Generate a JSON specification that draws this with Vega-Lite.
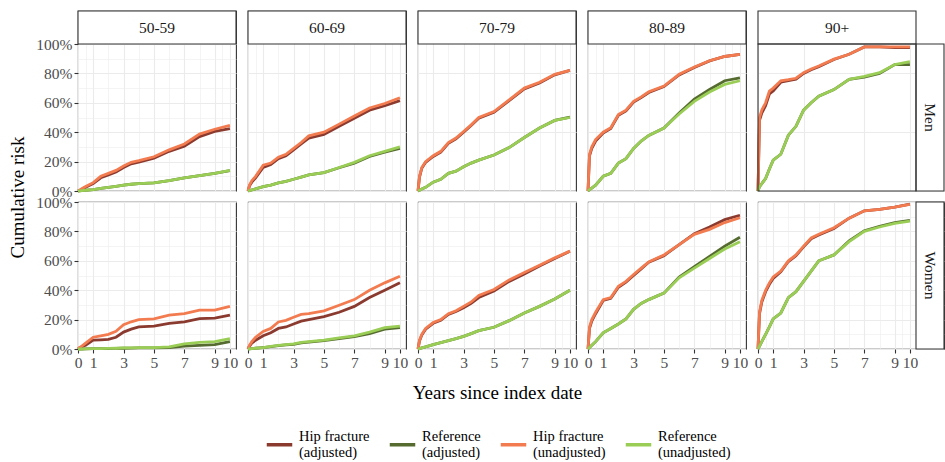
{
  "$schema": "https://vega.github.io/schema/vega-lite/v6.json",
  "padding": {"left": 8, "top": 9, "right": 0, "bottom": 0},
  "background": "white",
  "data": {"values": [
    {"s":"Men","a":"50-59","t":0,"hfa":0,"refa":0,"hfu":0,"refu":0},
    {"s":"Men","a":"50-59","t":0.1,"hfa":0.4,"refa":0.1,"hfu":0.5,"refu":0.1},
    {"s":"Men","a":"50-59","t":0.25,"hfa":1.2,"refa":0.3,"hfu":1.5,"refu":0.3},
    {"s":"Men","a":"50-59","t":0.5,"hfa":2.5,"refa":0.5,"hfu":3,"refu":0.5},
    {"s":"Men","a":"50-59","t":1,"hfa":5,"refa":1,"hfu":5.7,"refu":1},
    {"s":"Men","a":"50-59","t":1.5,"hfa":9,"refa":1.8,"hfu":10,"refu":1.8},
    {"s":"Men","a":"50-59","t":2,"hfa":11,"refa":2.5,"hfu":12,"refu":2.5},
    {"s":"Men","a":"50-59","t":2.5,"hfa":13,"refa":3.2,"hfu":14,"refu":3.2},
    {"s":"Men","a":"50-59","t":3,"hfa":16,"refa":4,"hfu":17,"refu":4},
    {"s":"Men","a":"50-59","t":3.5,"hfa":18.5,"refa":4.6,"hfu":19.5,"refu":4.6},
    {"s":"Men","a":"50-59","t":4,"hfa":19.6,"refa":5,"hfu":20.6,"refu":5},
    {"s":"Men","a":"50-59","t":5,"hfa":22.3,"refa":5.5,"hfu":23.3,"refu":5.5},
    {"s":"Men","a":"50-59","t":6,"hfa":27,"refa":7,"hfu":28,"refu":7},
    {"s":"Men","a":"50-59","t":7,"hfa":30.5,"refa":9,"hfu":32,"refu":9},
    {"s":"Men","a":"50-59","t":8,"hfa":37,"refa":10.5,"hfu":38.7,"refu":10.5},
    {"s":"Men","a":"50-59","t":9,"hfa":40.5,"refa":12,"hfu":42,"refu":12},
    {"s":"Men","a":"50-59","t":10,"hfa":42.5,"refa":13.8,"hfu":44.6,"refu":14},

    {"s":"Women","a":"50-59","t":0,"hfa":0,"refa":0,"hfu":0,"refu":0},
    {"s":"Women","a":"50-59","t":0.1,"hfa":0.8,"refa":0,"hfu":1,"refu":0},
    {"s":"Women","a":"50-59","t":0.25,"hfa":1.5,"refa":0,"hfu":2,"refu":0},
    {"s":"Women","a":"50-59","t":0.5,"hfa":2.5,"refa":0.1,"hfu":4,"refu":0.1},
    {"s":"Women","a":"50-59","t":1,"hfa":6,"refa":0.2,"hfu":8,"refu":0.2},
    {"s":"Women","a":"50-59","t":1.5,"hfa":6.2,"refa":0.2,"hfu":9,"refu":0.3},
    {"s":"Women","a":"50-59","t":2,"hfa":6.5,"refa":0.3,"hfu":10,"refu":0.4},
    {"s":"Women","a":"50-59","t":2.5,"hfa":8,"refa":0.4,"hfu":12,"refu":0.5},
    {"s":"Women","a":"50-59","t":3,"hfa":11.5,"refa":0.5,"hfu":16.5,"refu":0.7},
    {"s":"Women","a":"50-59","t":3.5,"hfa":13.5,"refa":0.6,"hfu":18.5,"refu":0.8},
    {"s":"Women","a":"50-59","t":4,"hfa":15,"refa":0.7,"hfu":20,"refu":0.9},
    {"s":"Women","a":"50-59","t":5,"hfa":15.5,"refa":0.8,"hfu":20.5,"refu":1},
    {"s":"Women","a":"50-59","t":6,"hfa":17.5,"refa":1,"hfu":23,"refu":1.5},
    {"s":"Women","a":"50-59","t":7,"hfa":18.5,"refa":2,"hfu":24,"refu":3.5},
    {"s":"Women","a":"50-59","t":8,"hfa":20.7,"refa":2.5,"hfu":26.5,"refu":4.5},
    {"s":"Women","a":"50-59","t":9,"hfa":21,"refa":3,"hfu":26.5,"refu":5},
    {"s":"Women","a":"50-59","t":10,"hfa":23,"refa":5,"hfu":29,"refu":7},

    {"s":"Men","a":"60-69","t":0,"hfa":0,"refa":0,"hfu":0,"refu":0},
    {"s":"Men","a":"60-69","t":0.1,"hfa":3.5,"refa":0.3,"hfu":4,"refu":0.3},
    {"s":"Men","a":"60-69","t":0.25,"hfa":6,"refa":0.7,"hfu":7,"refu":0.7},
    {"s":"Men","a":"60-69","t":0.5,"hfa":9,"refa":1.5,"hfu":10,"refu":1.5},
    {"s":"Men","a":"60-69","t":1,"hfa":16,"refa":3,"hfu":17.6,"refu":3},
    {"s":"Men","a":"60-69","t":1.5,"hfa":18,"refa":4,"hfu":19,"refu":4},
    {"s":"Men","a":"60-69","t":2,"hfa":22,"refa":5.5,"hfu":23,"refu":5.5},
    {"s":"Men","a":"60-69","t":2.5,"hfa":24,"refa":6.5,"hfu":25,"refu":6.5},
    {"s":"Men","a":"60-69","t":3,"hfa":28,"refa":8,"hfu":29,"refu":8},
    {"s":"Men","a":"60-69","t":3.5,"hfa":32,"refa":9.5,"hfu":33,"refu":9.5},
    {"s":"Men","a":"60-69","t":4,"hfa":36,"refa":11,"hfu":37.5,"refu":11},
    {"s":"Men","a":"60-69","t":5,"hfa":38.5,"refa":12.5,"hfu":40,"refu":12.5},
    {"s":"Men","a":"60-69","t":6,"hfa":44,"refa":15.8,"hfu":45.5,"refu":16},
    {"s":"Men","a":"60-69","t":7,"hfa":49.5,"refa":19,"hfu":51,"refu":19.5},
    {"s":"Men","a":"60-69","t":8,"hfa":55,"refa":23.5,"hfu":56.5,"refu":24},
    {"s":"Men","a":"60-69","t":9,"hfa":58,"refa":26.5,"hfu":59.5,"refu":27},
    {"s":"Men","a":"60-69","t":10,"hfa":61.5,"refa":29,"hfu":63.4,"refu":30},

    {"s":"Women","a":"60-69","t":0,"hfa":0,"refa":0,"hfu":0,"refu":0},
    {"s":"Women","a":"60-69","t":0.1,"hfa":2,"refa":0.1,"hfu":2.5,"refu":0.1},
    {"s":"Women","a":"60-69","t":0.25,"hfa":4,"refa":0.3,"hfu":5,"refu":0.3},
    {"s":"Women","a":"60-69","t":0.5,"hfa":6,"refa":0.5,"hfu":8,"refu":0.5},
    {"s":"Women","a":"60-69","t":1,"hfa":9,"refa":1,"hfu":12,"refu":1},
    {"s":"Women","a":"60-69","t":1.5,"hfa":11,"refa":1.6,"hfu":14,"refu":1.8},
    {"s":"Women","a":"60-69","t":2,"hfa":14,"refa":2.3,"hfu":18.4,"refu":2.5},
    {"s":"Women","a":"60-69","t":2.5,"hfa":15,"refa":2.8,"hfu":19.5,"refu":3},
    {"s":"Women","a":"60-69","t":3,"hfa":17,"refa":3.2,"hfu":21.6,"refu":3.5},
    {"s":"Women","a":"60-69","t":3.5,"hfa":19,"refa":4.2,"hfu":23.5,"refu":4.5},
    {"s":"Women","a":"60-69","t":4,"hfa":20,"refa":4.7,"hfu":24,"refu":5},
    {"s":"Women","a":"60-69","t":5,"hfa":22,"refa":5.7,"hfu":26,"refu":6},
    {"s":"Women","a":"60-69","t":6,"hfa":25,"refa":7,"hfu":29.8,"refu":7.5},
    {"s":"Women","a":"60-69","t":7,"hfa":29,"refa":8.5,"hfu":33.6,"refu":9},
    {"s":"Women","a":"60-69","t":8,"hfa":35,"refa":10.5,"hfu":40,"refu":11.5},
    {"s":"Women","a":"60-69","t":9,"hfa":40,"refa":13.5,"hfu":45,"refu":14.5},
    {"s":"Women","a":"60-69","t":10,"hfa":45,"refa":14.5,"hfu":49.5,"refu":15.5},

    {"s":"Men","a":"70-79","t":0,"hfa":0,"refa":0,"hfu":0,"refu":0},
    {"s":"Men","a":"70-79","t":0.1,"hfa":9.5,"refa":0.5,"hfu":10,"refu":0.5},
    {"s":"Men","a":"70-79","t":0.25,"hfa":15.5,"refa":1.3,"hfu":16,"refu":1.3},
    {"s":"Men","a":"70-79","t":0.5,"hfa":19.5,"refa":2.5,"hfu":20,"refu":2.5},
    {"s":"Men","a":"70-79","t":1,"hfa":23.5,"refa":6,"hfu":24,"refu":6},
    {"s":"Men","a":"70-79","t":1.5,"hfa":26.5,"refa":8,"hfu":27,"refu":8},
    {"s":"Men","a":"70-79","t":2,"hfa":32.5,"refa":12,"hfu":33,"refu":12},
    {"s":"Men","a":"70-79","t":2.5,"hfa":35.5,"refa":13.5,"hfu":36,"refu":13.5},
    {"s":"Men","a":"70-79","t":3,"hfa":40,"refa":16.5,"hfu":40.5,"refu":16.5},
    {"s":"Men","a":"70-79","t":3.5,"hfa":44.5,"refa":19,"hfu":45,"refu":19},
    {"s":"Men","a":"70-79","t":4,"hfa":49.5,"refa":21,"hfu":50,"refu":21},
    {"s":"Men","a":"70-79","t":5,"hfa":53.5,"refa":24.5,"hfu":54,"refu":24.5},
    {"s":"Men","a":"70-79","t":6,"hfa":61.5,"refa":29.5,"hfu":62,"refu":29.5},
    {"s":"Men","a":"70-79","t":7,"hfa":69.5,"refa":36.4,"hfu":70,"refu":36.4},
    {"s":"Men","a":"70-79","t":8,"hfa":73.5,"refa":42.8,"hfu":74,"refu":42.8},
    {"s":"Men","a":"70-79","t":9,"hfa":79,"refa":48,"hfu":79.4,"refu":48},
    {"s":"Men","a":"70-79","t":10,"hfa":82,"refa":50.2,"hfu":82,"refu":50},

    {"s":"Women","a":"70-79","t":0,"hfa":0,"refa":0,"hfu":0,"refu":0},
    {"s":"Women","a":"70-79","t":0.1,"hfa":5.5,"refa":0.3,"hfu":6,"refu":0.3},
    {"s":"Women","a":"70-79","t":0.25,"hfa":9.5,"refa":0.8,"hfu":10,"refu":0.8},
    {"s":"Women","a":"70-79","t":0.5,"hfa":13.5,"refa":1.5,"hfu":14,"refu":1.5},
    {"s":"Women","a":"70-79","t":1,"hfa":17.5,"refa":3,"hfu":18,"refu":3},
    {"s":"Women","a":"70-79","t":1.5,"hfa":19.5,"refa":4.3,"hfu":20,"refu":4.3},
    {"s":"Women","a":"70-79","t":2,"hfa":23.5,"refa":5.7,"hfu":24,"refu":5.7},
    {"s":"Women","a":"70-79","t":2.5,"hfa":25.5,"refa":7,"hfu":26,"refu":7},
    {"s":"Women","a":"70-79","t":3,"hfa":28,"refa":8.6,"hfu":29,"refu":8.6},
    {"s":"Women","a":"70-79","t":3.5,"hfa":31,"refa":10.5,"hfu":32,"refu":10.5},
    {"s":"Women","a":"70-79","t":4,"hfa":35,"refa":12.5,"hfu":36.4,"refu":12.5},
    {"s":"Women","a":"70-79","t":5,"hfa":39.5,"refa":14.8,"hfu":40.5,"refu":14.8},
    {"s":"Women","a":"70-79","t":6,"hfa":46,"refa":19.3,"hfu":47,"refu":19.3},
    {"s":"Women","a":"70-79","t":7,"hfa":51,"refa":24.5,"hfu":52,"refu":24.5},
    {"s":"Women","a":"70-79","t":8,"hfa":56.5,"refa":29,"hfu":57,"refu":29},
    {"s":"Women","a":"70-79","t":9,"hfa":61.5,"refa":34,"hfu":62,"refu":34},
    {"s":"Women","a":"70-79","t":10,"hfa":66.5,"refa":40,"hfu":66.6,"refu":40},

    {"s":"Men","a":"80-89","t":0,"hfa":0,"refa":0,"hfu":0,"refu":0},
    {"s":"Men","a":"80-89","t":0.1,"hfa":24,"refa":1,"hfu":25,"refu":1},
    {"s":"Men","a":"80-89","t":0.25,"hfa":29,"refa":2,"hfu":30,"refu":2},
    {"s":"Men","a":"80-89","t":0.5,"hfa":34,"refa":4,"hfu":35,"refu":4},
    {"s":"Men","a":"80-89","t":1,"hfa":39.5,"refa":10,"hfu":40,"refu":10},
    {"s":"Men","a":"80-89","t":1.5,"hfa":42.5,"refa":12,"hfu":43,"refu":12},
    {"s":"Men","a":"80-89","t":2,"hfa":51.5,"refa":19,"hfu":52,"refu":19},
    {"s":"Men","a":"80-89","t":2.5,"hfa":54.5,"refa":22,"hfu":55,"refu":22},
    {"s":"Men","a":"80-89","t":3,"hfa":60.5,"refa":29,"hfu":61,"refu":29},
    {"s":"Men","a":"80-89","t":3.5,"hfa":63.5,"refa":34,"hfu":64,"refu":34},
    {"s":"Men","a":"80-89","t":4,"hfa":67,"refa":37.8,"hfu":67.5,"refu":37.8},
    {"s":"Men","a":"80-89","t":5,"hfa":71,"refa":42.8,"hfu":71.4,"refu":42.8},
    {"s":"Men","a":"80-89","t":6,"hfa":79,"refa":53,"hfu":79.4,"refu":52.4},
    {"s":"Men","a":"80-89","t":7,"hfa":84,"refa":62.5,"hfu":84.4,"refu":61},
    {"s":"Men","a":"80-89","t":8,"hfa":88.5,"refa":69,"hfu":88.6,"refu":67.3},
    {"s":"Men","a":"80-89","t":9,"hfa":91.5,"refa":75,"hfu":91.5,"refu":72.5},
    {"s":"Men","a":"80-89","t":10,"hfa":93,"refa":77,"hfu":93,"refu":75},

    {"s":"Women","a":"80-89","t":0,"hfa":0,"refa":0,"hfu":0,"refu":0},
    {"s":"Women","a":"80-89","t":0.1,"hfa":14,"refa":1,"hfu":15,"refu":1},
    {"s":"Women","a":"80-89","t":0.25,"hfa":19,"refa":2.5,"hfu":20,"refu":2.5},
    {"s":"Women","a":"80-89","t":0.5,"hfa":24,"refa":5,"hfu":25,"refu":5},
    {"s":"Women","a":"80-89","t":1,"hfa":33,"refa":11,"hfu":33.6,"refu":11},
    {"s":"Women","a":"80-89","t":1.5,"hfa":34.5,"refa":14,"hfu":35,"refu":14},
    {"s":"Women","a":"80-89","t":2,"hfa":42,"refa":17,"hfu":42.7,"refu":17},
    {"s":"Women","a":"80-89","t":2.5,"hfa":45.5,"refa":20.5,"hfu":46,"refu":20.5},
    {"s":"Women","a":"80-89","t":3,"hfa":50,"refa":27,"hfu":50.7,"refu":27},
    {"s":"Women","a":"80-89","t":3.5,"hfa":54.5,"refa":31,"hfu":55,"refu":31},
    {"s":"Women","a":"80-89","t":4,"hfa":59,"refa":33.6,"hfu":59.3,"refu":33.6},
    {"s":"Women","a":"80-89","t":5,"hfa":63.5,"refa":38,"hfu":64,"refu":38},
    {"s":"Women","a":"80-89","t":6,"hfa":71,"refa":49,"hfu":71,"refu":48.4},
    {"s":"Women","a":"80-89","t":7,"hfa":78.5,"refa":56,"hfu":78,"refu":55},
    {"s":"Women","a":"80-89","t":8,"hfa":83,"refa":63,"hfu":81.4,"refu":61.6},
    {"s":"Women","a":"80-89","t":9,"hfa":88,"refa":70,"hfu":86,"refu":68},
    {"s":"Women","a":"80-89","t":10,"hfa":91,"refa":76,"hfu":89.3,"refu":73},

    {"s":"Men","a":"90+","t":0,"hfa":0,"refa":0,"hfu":0,"refu":0},
    {"s":"Men","a":"90+","t":0.1,"hfa":48,"refa":3,"hfu":50,"refu":3},
    {"s":"Men","a":"90+","t":0.25,"hfa":53,"refa":5,"hfu":55,"refu":5},
    {"s":"Men","a":"90+","t":0.5,"hfa":58,"refa":8.5,"hfu":60,"refu":8.5},
    {"s":"Men","a":"90+","t":0.75,"hfa":66,"refa":15,"hfu":68,"refu":15},
    {"s":"Men","a":"90+","t":1,"hfa":68,"refa":21,"hfu":70,"refu":21},
    {"s":"Men","a":"90+","t":1.5,"hfa":74,"refa":25,"hfu":75,"refu":25},
    {"s":"Men","a":"90+","t":2,"hfa":75,"refa":38,"hfu":75.7,"refu":38},
    {"s":"Men","a":"90+","t":2.5,"hfa":76,"refa":44,"hfu":76.7,"refu":44},
    {"s":"Men","a":"90+","t":3,"hfa":80,"refa":55,"hfu":80.5,"refu":55},
    {"s":"Men","a":"90+","t":3.5,"hfa":82.5,"refa":60,"hfu":83,"refu":60},
    {"s":"Men","a":"90+","t":4,"hfa":84.5,"refa":64.5,"hfu":85,"refu":64.5},
    {"s":"Men","a":"90+","t":5,"hfa":89.5,"refa":69,"hfu":89.7,"refu":69},
    {"s":"Men","a":"90+","t":6,"hfa":93,"refa":76,"hfu":93,"refu":76},
    {"s":"Men","a":"90+","t":7,"hfa":98,"refa":77.5,"hfu":98,"refu":78},
    {"s":"Men","a":"90+","t":8,"hfa":98,"refa":80,"hfu":98,"refu":80.5},
    {"s":"Men","a":"90+","t":9,"hfa":97.5,"refa":86,"hfu":98,"refu":86},
    {"s":"Men","a":"90+","t":10,"hfa":97.5,"refa":86,"hfu":98,"refu":88},

    {"s":"Women","a":"90+","t":0,"hfa":0,"refa":0,"hfu":0,"refu":0},
    {"s":"Women","a":"90+","t":0.1,"hfa":24,"refa":2,"hfu":25,"refu":2},
    {"s":"Women","a":"90+","t":0.25,"hfa":32,"refa":5,"hfu":33,"refu":5},
    {"s":"Women","a":"90+","t":0.5,"hfa":39,"refa":10,"hfu":40,"refu":10},
    {"s":"Women","a":"90+","t":0.75,"hfa":44,"refa":15,"hfu":45,"refu":15},
    {"s":"Women","a":"90+","t":1,"hfa":48,"refa":20.5,"hfu":49,"refu":20.5},
    {"s":"Women","a":"90+","t":1.5,"hfa":52.5,"refa":24.5,"hfu":53,"refu":24.5},
    {"s":"Women","a":"90+","t":2,"hfa":59.5,"refa":35,"hfu":60,"refu":35},
    {"s":"Women","a":"90+","t":2.5,"hfa":63.5,"refa":39,"hfu":64,"refu":39},
    {"s":"Women","a":"90+","t":3,"hfa":69.5,"refa":46,"hfu":70,"refu":46},
    {"s":"Women","a":"90+","t":3.5,"hfa":75,"refa":53,"hfu":75.6,"refu":53},
    {"s":"Women","a":"90+","t":4,"hfa":77.5,"refa":60,"hfu":78,"refu":60},
    {"s":"Women","a":"90+","t":5,"hfa":82,"refa":64,"hfu":82.5,"refu":64},
    {"s":"Women","a":"90+","t":6,"hfa":89,"refa":73.5,"hfu":89,"refu":73},
    {"s":"Women","a":"90+","t":7,"hfa":94,"refa":80.5,"hfu":94,"refu":80},
    {"s":"Women","a":"90+","t":8,"hfa":95,"refa":83.5,"hfu":95,"refu":83},
    {"s":"Women","a":"90+","t":9,"hfa":96.5,"refa":86,"hfu":96.5,"refu":85.5},
    {"s":"Women","a":"90+","t":10,"hfa":98.5,"refa":87.5,"hfu":98.4,"refu":87}
  ]},
  "transform": [{"fold": ["hfa", "refa", "hfu", "refu"], "as": ["series", "risk"]}],
  "columns": 5,
  "bounds": "flush",
  "align": "each",
  "spacing": {"row": 11, "column": 12},
  "resolve": {"scale": {"color": "shared"}, "legend": {"color": "shared"}},
  "concat": [
    {"width": 158, "height": 180, "resolve": {"axis": {"y": "independent"}}, "layer": [
      {"transform": [{"filter": "datum.s=='Men'&&datum.a=='50-59'"}], "mark": {"type": "line", "strokeWidth": 2.8},
       "encoding": {
        "x": {"field": "t", "type": "quantitative", "scale": {"domain": [0, 10.4], "nice": false, "zero": false}, "axis": {"values": [0,0.5,1,2,3,4,5,6,7,8,9,9.5,10], "labels": false, "ticks": false, "title": null, "gridWidth": {"condition": {"test": "indexof([0,1,3,5,7,9,10],datum.value)>=0", "value": 1.1}, "value": 0.55}}},
        "y": {"field": "risk", "type": "quantitative", "scale": {"domain": [0, 122.449], "nice": false, "zero": false}, "axis": {"values": [0,10,20,30,40,50,60,70,80,90,100], "labelOverlap": false, "title": "Cumulative risk", "titleY": 186, "titleAlign": "center", "titlePadding": 8, "labelExpr": "datum.value%20==0?datum.value+'%':''", "tickOpacity": {"condition": {"test": "datum.value%20==0", "value": 1}, "value": 0}, "gridWidth": {"condition": {"test": "datum.value%20==0", "value": 1.1}, "value": 0.55}}},
        "color": {"field": "series", "type": "nominal", "scale": {"domain": ["hfa","refa","hfu","refu"], "range": ["#8B3A2F","#556B2F","#F27B50","#9ACD55"]}, "legend": {"title": null, "labelExpr": "datum.value=='hfa'?['Hip fracture','(adjusted)']:datum.value=='refa'?['Reference','(adjusted)']:datum.value=='hfu'?['Hip fracture','(unadjusted)']:['Reference','(unadjusted)']"}}
       }},
      {"data": {"values": [{"lab": "50-59"}]}, "mark": {"type": "rect", "fill": "white", "stroke": "#333333", "strokeWidth": 1.1}, "encoding": {"y": {"datum": 100, "type": "quantitative", "axis": null}, "y2": {"datum": 122.449}}},
      {"data": {"values": [{"lab": "50-59"}]}, "mark": {"type": "text", "font": "Liberation Serif", "fontSize": 15.5, "color": "#1a1a1a"}, "encoding": {"y": {"datum": 111.2, "type": "quantitative", "axis": null}, "text": {"field": "lab"}}}
    ]},
    {"width": 158, "height": 180, "layer": [
      {"transform": [{"filter": "datum.s=='Men'&&datum.a=='60-69'"}], "mark": {"type": "line", "strokeWidth": 2.8},
       "encoding": {
        "x": {"field": "t", "type": "quantitative", "scale": {"domain": [0, 10.4], "nice": false, "zero": false}, "axis": {"values": [0,0.5,1,2,3,4,5,6,7,8,9,9.5,10], "labels": false, "ticks": false, "title": null, "gridWidth": {"condition": {"test": "indexof([0,1,3,5,7,9,10],datum.value)>=0", "value": 1.1}, "value": 0.55}}},
        "y": {"field": "risk", "type": "quantitative", "scale": {"domain": [0, 122.449], "nice": false, "zero": false}, "axis": {"values": [0,10,20,30,40,50,60,70,80,90,100], "labels": false, "ticks": false, "title": null, "gridWidth": {"condition": {"test": "datum.value%20==0", "value": 1.1}, "value": 0.55}}},
        "color": {"field": "series", "type": "nominal", "scale": {"domain": ["hfa","refa","hfu","refu"], "range": ["#8B3A2F","#556B2F","#F27B50","#9ACD55"]}, "legend": {"title": null, "labelExpr": "datum.value=='hfa'?['Hip fracture','(adjusted)']:datum.value=='refa'?['Reference','(adjusted)']:datum.value=='hfu'?['Hip fracture','(unadjusted)']:['Reference','(unadjusted)']"}}
       }},
      {"data": {"values": [{"lab": "60-69"}]}, "mark": {"type": "rect", "fill": "white", "stroke": "#333333", "strokeWidth": 1.1}, "encoding": {"y": {"datum": 100, "type": "quantitative"}, "y2": {"datum": 122.449}}},
      {"data": {"values": [{"lab": "60-69"}]}, "mark": {"type": "text", "font": "Liberation Serif", "fontSize": 15.5, "color": "#1a1a1a"}, "encoding": {"y": {"datum": 111.2, "type": "quantitative"}, "text": {"field": "lab"}}}
    ]},
    {"width": 158, "height": 180, "layer": [
      {"transform": [{"filter": "datum.s=='Men'&&datum.a=='70-79'"}], "mark": {"type": "line", "strokeWidth": 2.8},
       "encoding": {
        "x": {"field": "t", "type": "quantitative", "scale": {"domain": [0, 10.4], "nice": false, "zero": false}, "axis": {"values": [0,0.5,1,2,3,4,5,6,7,8,9,9.5,10], "labels": false, "ticks": false, "title": null, "gridWidth": {"condition": {"test": "indexof([0,1,3,5,7,9,10],datum.value)>=0", "value": 1.1}, "value": 0.55}}},
        "y": {"field": "risk", "type": "quantitative", "scale": {"domain": [0, 122.449], "nice": false, "zero": false}, "axis": {"values": [0,10,20,30,40,50,60,70,80,90,100], "labels": false, "ticks": false, "title": null, "gridWidth": {"condition": {"test": "datum.value%20==0", "value": 1.1}, "value": 0.55}}},
        "color": {"field": "series", "type": "nominal", "scale": {"domain": ["hfa","refa","hfu","refu"], "range": ["#8B3A2F","#556B2F","#F27B50","#9ACD55"]}, "legend": {"title": null, "labelExpr": "datum.value=='hfa'?['Hip fracture','(adjusted)']:datum.value=='refa'?['Reference','(adjusted)']:datum.value=='hfu'?['Hip fracture','(unadjusted)']:['Reference','(unadjusted)']"}}
       }},
      {"data": {"values": [{"lab": "70-79"}]}, "mark": {"type": "rect", "fill": "white", "stroke": "#333333", "strokeWidth": 1.1}, "encoding": {"y": {"datum": 100, "type": "quantitative"}, "y2": {"datum": 122.449}}},
      {"data": {"values": [{"lab": "70-79"}]}, "mark": {"type": "text", "font": "Liberation Serif", "fontSize": 15.5, "color": "#1a1a1a"}, "encoding": {"y": {"datum": 111.2, "type": "quantitative"}, "text": {"field": "lab"}}}
    ]},
    {"width": 158, "height": 180, "layer": [
      {"transform": [{"filter": "datum.s=='Men'&&datum.a=='80-89'"}], "mark": {"type": "line", "strokeWidth": 2.8},
       "encoding": {
        "x": {"field": "t", "type": "quantitative", "scale": {"domain": [0, 10.4], "nice": false, "zero": false}, "axis": {"values": [0,0.5,1,2,3,4,5,6,7,8,9,9.5,10], "labels": false, "ticks": false, "title": null, "gridWidth": {"condition": {"test": "indexof([0,1,3,5,7,9,10],datum.value)>=0", "value": 1.1}, "value": 0.55}}},
        "y": {"field": "risk", "type": "quantitative", "scale": {"domain": [0, 122.449], "nice": false, "zero": false}, "axis": {"values": [0,10,20,30,40,50,60,70,80,90,100], "labels": false, "ticks": false, "title": null, "gridWidth": {"condition": {"test": "datum.value%20==0", "value": 1.1}, "value": 0.55}}},
        "color": {"field": "series", "type": "nominal", "scale": {"domain": ["hfa","refa","hfu","refu"], "range": ["#8B3A2F","#556B2F","#F27B50","#9ACD55"]}, "legend": {"title": null, "labelExpr": "datum.value=='hfa'?['Hip fracture','(adjusted)']:datum.value=='refa'?['Reference','(adjusted)']:datum.value=='hfu'?['Hip fracture','(unadjusted)']:['Reference','(unadjusted)']"}}
       }},
      {"data": {"values": [{"lab": "80-89"}]}, "mark": {"type": "rect", "fill": "white", "stroke": "#333333", "strokeWidth": 1.1}, "encoding": {"y": {"datum": 100, "type": "quantitative"}, "y2": {"datum": 122.449}}},
      {"data": {"values": [{"lab": "80-89"}]}, "mark": {"type": "text", "font": "Liberation Serif", "fontSize": 15.5, "color": "#1a1a1a"}, "encoding": {"y": {"datum": 111.2, "type": "quantitative"}, "text": {"field": "lab"}}}
    ]},
    {"width": 186, "height": 180, "view": {"stroke": null}, "layer": [
      {"transform": [{"filter": "datum.s=='Men'&&datum.a=='90+'"}], "mark": {"type": "line", "strokeWidth": 2.8},
       "encoding": {
        "x": {"field": "t", "type": "quantitative", "scale": {"domain": [0, 12.243], "nice": false, "zero": false}, "axis": {"values": [0,0.5,1,2,3,4,5,6,7,8,9,9.5,10], "labels": false, "ticks": false, "title": null, "gridWidth": {"condition": {"test": "indexof([0,1,3,5,7,9,10],datum.value)>=0", "value": 1.1}, "value": 0.55}}},
        "y": {"field": "risk", "type": "quantitative", "scale": {"domain": [0, 122.449], "nice": false, "zero": false}, "axis": {"values": [0,10,20,30,40,50,60,70,80,90,100], "labels": false, "ticks": false, "title": null, "gridWidth": {"condition": {"test": "datum.value%20==0", "value": 1.1}, "value": 0.55}}},
        "color": {"field": "series", "type": "nominal", "scale": {"domain": ["hfa","refa","hfu","refu"], "range": ["#8B3A2F","#556B2F","#F27B50","#9ACD55"]}, "legend": {"title": null, "labelExpr": "datum.value=='hfa'?['Hip fracture','(adjusted)']:datum.value=='refa'?['Reference','(adjusted)']:datum.value=='hfu'?['Hip fracture','(unadjusted)']:['Reference','(unadjusted)']"}}
       }},
      {"data": {"values": [{"lab": "90+"}]}, "mark": {"type": "rect", "fill": "white", "stroke": "#333333", "strokeWidth": 1.1}, "encoding": {"x": {"datum": 0, "type": "quantitative"}, "x2": {"datum": 10.4}, "y": {"datum": 100, "type": "quantitative"}, "y2": {"datum": 122.449}}},
      {"data": {"values": [{"lab": "90+"}]}, "mark": {"type": "text", "font": "Liberation Serif", "fontSize": 15.5, "color": "#1a1a1a"}, "encoding": {"x": {"datum": 5.2, "type": "quantitative"}, "y": {"datum": 111.2, "type": "quantitative"}, "text": {"field": "lab"}}},
      {"data": {"values": [{"lab": "Men"}]}, "mark": {"type": "rect", "fill": "white", "stroke": "#333333", "strokeWidth": 1.1}, "encoding": {"x": {"datum": 10.4, "type": "quantitative"}, "x2": {"datum": 12.243}, "y": {"datum": 0, "type": "quantitative"}, "y2": {"datum": 100}}},
      {"data": {"values": [{"lab": "Men"}]}, "mark": {"type": "text", "angle": 90, "font": "Liberation Serif", "fontSize": 15.5, "color": "#1a1a1a"}, "encoding": {"x": {"datum": 11.32, "type": "quantitative"}, "y": {"datum": 50, "type": "quantitative"}, "text": {"field": "lab"}}},
      {"data": {"values": [{"lab": "frame"}]}, "mark": {"type": "rect", "fill": null, "fillOpacity": 0, "stroke": "#333333", "strokeWidth": 1.1}, "encoding": {"x": {"datum": 0, "type": "quantitative"}, "x2": {"datum": 10.4}, "y": {"datum": 0, "type": "quantitative"}, "y2": {"datum": 100}}}
    ]},
    {"width": 158, "height": 147, "layer": [
      {"transform": [{"filter": "datum.s=='Women'&&datum.a=='50-59'"}], "mark": {"type": "line", "strokeWidth": 2.8},
       "encoding": {
        "x": {"field": "t", "type": "quantitative", "scale": {"domain": [0, 10.4], "nice": false, "zero": false}, "axis": {"values": [0,0.5,1,2,3,4,5,6,7,8,9,9.5,10], "title": null, "labelExpr": "indexof([0,1,3,5,7,9,10],datum.value)>=0?''+datum.value:''", "tickOpacity": {"condition": {"test": "indexof([0,1,3,5,7,9,10],datum.value)>=0", "value": 1}, "value": 0}, "gridWidth": {"condition": {"test": "indexof([0,1,3,5,7,9,10],datum.value)>=0", "value": 1.1}, "value": 0.55}}},
        "y": {"field": "risk", "type": "quantitative", "scale": {"domain": [0, 100], "nice": false}, "axis": {"values": [0,10,20,30,40,50,60,70,80,90,100], "labelOverlap": false, "title": null, "labelExpr": "datum.value%20==0?datum.value+'%':''", "tickOpacity": {"condition": {"test": "datum.value%20==0", "value": 1}, "value": 0}, "gridWidth": {"condition": {"test": "datum.value%20==0", "value": 1.1}, "value": 0.55}}},
        "color": {"field": "series", "type": "nominal", "scale": {"domain": ["hfa","refa","hfu","refu"], "range": ["#8B3A2F","#556B2F","#F27B50","#9ACD55"]}, "legend": {"title": null, "labelExpr": "datum.value=='hfa'?['Hip fracture','(adjusted)']:datum.value=='refa'?['Reference','(adjusted)']:datum.value=='hfu'?['Hip fracture','(unadjusted)']:['Reference','(unadjusted)']"}}
       }}
    ]},
    {"width": 158, "height": 147, "layer": [
      {"transform": [{"filter": "datum.s=='Women'&&datum.a=='60-69'"}], "mark": {"type": "line", "strokeWidth": 2.8},
       "encoding": {
        "x": {"field": "t", "type": "quantitative", "scale": {"domain": [0, 10.4], "nice": false, "zero": false}, "axis": {"values": [0,0.5,1,2,3,4,5,6,7,8,9,9.5,10], "title": null, "labelExpr": "indexof([0,1,3,5,7,9,10],datum.value)>=0?''+datum.value:''", "tickOpacity": {"condition": {"test": "indexof([0,1,3,5,7,9,10],datum.value)>=0", "value": 1}, "value": 0}, "gridWidth": {"condition": {"test": "indexof([0,1,3,5,7,9,10],datum.value)>=0", "value": 1.1}, "value": 0.55}}},
        "y": {"field": "risk", "type": "quantitative", "scale": {"domain": [0, 100], "nice": false}, "axis": {"values": [0,10,20,30,40,50,60,70,80,90,100], "labels": false, "ticks": false, "title": null, "gridWidth": {"condition": {"test": "datum.value%20==0", "value": 1.1}, "value": 0.55}}},
        "color": {"field": "series", "type": "nominal", "scale": {"domain": ["hfa","refa","hfu","refu"], "range": ["#8B3A2F","#556B2F","#F27B50","#9ACD55"]}, "legend": {"title": null, "labelExpr": "datum.value=='hfa'?['Hip fracture','(adjusted)']:datum.value=='refa'?['Reference','(adjusted)']:datum.value=='hfu'?['Hip fracture','(unadjusted)']:['Reference','(unadjusted)']"}}
       }}
    ]},
    {"width": 158, "height": 147, "layer": [
      {"transform": [{"filter": "datum.s=='Women'&&datum.a=='70-79'"}], "mark": {"type": "line", "strokeWidth": 2.8},
       "encoding": {
        "x": {"field": "t", "type": "quantitative", "scale": {"domain": [0, 10.4], "nice": false, "zero": false}, "axis": {"values": [0,0.5,1,2,3,4,5,6,7,8,9,9.5,10], "title": "Years since index date", "titlePadding": 13, "labelExpr": "indexof([0,1,3,5,7,9,10],datum.value)>=0?''+datum.value:''", "tickOpacity": {"condition": {"test": "indexof([0,1,3,5,7,9,10],datum.value)>=0", "value": 1}, "value": 0}, "gridWidth": {"condition": {"test": "indexof([0,1,3,5,7,9,10],datum.value)>=0", "value": 1.1}, "value": 0.55}}},
        "y": {"field": "risk", "type": "quantitative", "scale": {"domain": [0, 100], "nice": false}, "axis": {"values": [0,10,20,30,40,50,60,70,80,90,100], "labels": false, "ticks": false, "title": null, "gridWidth": {"condition": {"test": "datum.value%20==0", "value": 1.1}, "value": 0.55}}},
        "color": {"field": "series", "type": "nominal", "scale": {"domain": ["hfa","refa","hfu","refu"], "range": ["#8B3A2F","#556B2F","#F27B50","#9ACD55"]}, "legend": {"title": null, "labelExpr": "datum.value=='hfa'?['Hip fracture','(adjusted)']:datum.value=='refa'?['Reference','(adjusted)']:datum.value=='hfu'?['Hip fracture','(unadjusted)']:['Reference','(unadjusted)']"}}
       }}
    ]},
    {"width": 158, "height": 147, "layer": [
      {"transform": [{"filter": "datum.s=='Women'&&datum.a=='80-89'"}], "mark": {"type": "line", "strokeWidth": 2.8},
       "encoding": {
        "x": {"field": "t", "type": "quantitative", "scale": {"domain": [0, 10.4], "nice": false, "zero": false}, "axis": {"values": [0,0.5,1,2,3,4,5,6,7,8,9,9.5,10], "title": null, "labelExpr": "indexof([0,1,3,5,7,9,10],datum.value)>=0?''+datum.value:''", "tickOpacity": {"condition": {"test": "indexof([0,1,3,5,7,9,10],datum.value)>=0", "value": 1}, "value": 0}, "gridWidth": {"condition": {"test": "indexof([0,1,3,5,7,9,10],datum.value)>=0", "value": 1.1}, "value": 0.55}}},
        "y": {"field": "risk", "type": "quantitative", "scale": {"domain": [0, 100], "nice": false}, "axis": {"values": [0,10,20,30,40,50,60,70,80,90,100], "labels": false, "ticks": false, "title": null, "gridWidth": {"condition": {"test": "datum.value%20==0", "value": 1.1}, "value": 0.55}}},
        "color": {"field": "series", "type": "nominal", "scale": {"domain": ["hfa","refa","hfu","refu"], "range": ["#8B3A2F","#556B2F","#F27B50","#9ACD55"]}, "legend": {"title": null, "labelExpr": "datum.value=='hfa'?['Hip fracture','(adjusted)']:datum.value=='refa'?['Reference','(adjusted)']:datum.value=='hfu'?['Hip fracture','(unadjusted)']:['Reference','(unadjusted)']"}}
       }}
    ]},
    {"width": 186, "height": 147, "resolve": {"axis": {"x": "independent"}}, "layer": [
      {"transform": [{"filter": "datum.s=='Women'&&datum.a=='90+'"}], "mark": {"type": "line", "strokeWidth": 2.8},
       "encoding": {
        "x": {"field": "t", "type": "quantitative", "scale": {"domain": [0, 12.243], "nice": false, "zero": false}, "axis": {"values": [0,0.5,1,2,3,4,5,6,7,8,9,9.5,10], "labelOverlap": false, "title": null, "labelExpr": "indexof([0,1,3,5,7,9,10],datum.value)>=0?''+datum.value:''", "tickOpacity": {"condition": {"test": "indexof([0,1,3,5,7,9,10],datum.value)>=0", "value": 1}, "value": 0}, "gridWidth": {"condition": {"test": "indexof([0,1,3,5,7,9,10],datum.value)>=0", "value": 1.1}, "value": 0.55}}},
        "y": {"field": "risk", "type": "quantitative", "scale": {"domain": [0, 100], "nice": false}, "axis": {"values": [0,10,20,30,40,50,60,70,80,90,100], "labels": false, "ticks": false, "title": null, "gridWidth": {"condition": {"test": "datum.value%20==0", "value": 1.1}, "value": 0.55}}},
        "color": {"field": "series", "type": "nominal", "scale": {"domain": ["hfa","refa","hfu","refu"], "range": ["#8B3A2F","#556B2F","#F27B50","#9ACD55"]}, "legend": {"title": null, "labelExpr": "datum.value=='hfa'?['Hip fracture','(adjusted)']:datum.value=='refa'?['Reference','(adjusted)']:datum.value=='hfu'?['Hip fracture','(unadjusted)']:['Reference','(unadjusted)']"}}
       }},
      {"data": {"values": [{"lab": "Women"}]}, "mark": {"type": "rect", "fill": "white", "stroke": "#333333", "strokeWidth": 1.1}, "encoding": {"x": {"datum": 10.4, "type": "quantitative", "axis": null}, "x2": {"datum": 12.243}}},
      {"data": {"values": [{"lab": "Women"}]}, "mark": {"type": "text", "angle": 90, "font": "Liberation Serif", "fontSize": 15.5, "color": "#1a1a1a"}, "encoding": {"x": {"datum": 11.32, "type": "quantitative", "axis": null}, "text": {"field": "lab"}}}
    ]}
  ],
  "config": {
    "font": "Liberation Serif",
    "view": {"stroke": "#333333", "strokeWidth": 1.1, "fill": "white"},
    "axis": {"domain": false, "gridColor": "#ebebeb", "labelFont": "Liberation Serif", "labelFontSize": 15.5, "labelColor": "#4d4d4d", "tickColor": "#333333", "tickSize": 4, "tickWidth": 1.1, "labelPadding": 2, "labelOverlap": false, "labelFlush": false, "labelBound": false, "titleFont": "Liberation Serif", "titleFontSize": 19, "titleFontWeight": "normal", "titleColor": "#000000"},
    "legend": {"orient": "none", "legendX": 187, "legendY": 419, "direction": "horizontal", "symbolType": "stroke", "symbolStrokeWidth": 3.5, "symbolSize": 650, "labelFont": "Liberation Serif", "labelFontSize": 14.5, "labelColor": "#000000", "labelBaseline": "line-bottom", "labelLimit": 200, "columnPadding": 12, "labelOffset": 5}
  }
}
